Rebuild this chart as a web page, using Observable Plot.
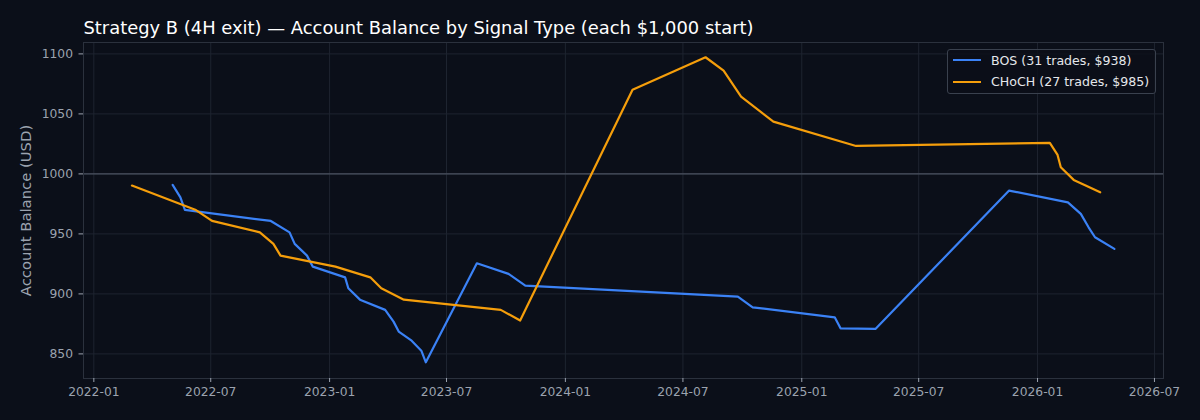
<!DOCTYPE html>
<html>
<head>
<meta charset="utf-8">
<script src="https://cdn.jsdelivr.net/npm/d3@7"></script>
<script src="https://cdn.jsdelivr.net/npm/@observablehq/plot@0.6"></script>
<style>
  html, body { margin: 0; padding: 0; background: #0b0f19; }
  #wrap { position: relative; width: 1200px; height: 420px; overflow: hidden; }
  #legend {
    position: absolute; left: 947px; top: 49px; width: 209px; height: 45px;
    box-sizing: border-box; border: 1px solid #3a414e; border-radius: 3px;
    background: rgba(11,15,25,0.82);
    font-family: "DejaVu Sans", sans-serif; font-size: 12.6px; color: #e5e7eb;
  }
  .item { position: absolute; left: 5px; height: 20px; display: flex; align-items: center; white-space: nowrap; }
  .swatch { width: 28px; height: 0; border-top: 2px solid; margin-right: 10px; }
</style>
</head>
<body>
<div id="wrap"><div id="chart"></div>
  <div id="legend">
    <div class="item" style="top:0px"><span class="swatch" style="border-color:#3b82f6"></span><span id="lg0"></span></div>
    <div class="item" style="top:21.5px"><span class="swatch" style="border-color:#f59e0b"></span><span id="lg1"></span></div>
  </div>
</div>
<script>
const titleText = "Strategy B (4H exit) — Account Balance by Signal Type (each $1,000 start)";
const yLabel = "Account Balance (USD)";
const seriesNames = ["BOS (31 trades, $938)", "CHoCH (27 trades, $985)"];
const seriesColors = ["#3b82f6", "#f59e0b"];

const bosDates = ["2022-05-03","2022-05-15","2022-05-22","2022-10-02","2022-10-31","2022-11-08","2022-11-27","2022-12-06",
  "2023-01-25","2023-01-30","2023-02-17","2023-03-28","2023-04-10","2023-04-18","2023-05-08","2023-05-23","2023-05-30",
  "2023-08-17","2023-10-05","2023-10-31","2024-09-24","2024-10-17","2025-02-21","2025-03-02","2025-04-25",
  "2025-11-18","2026-02-17","2026-03-09","2026-03-21","2026-03-31","2026-04-30"];
const bosValues = [990.8,980.5,970.0,960.8,951.3,941.7,931.9,922.7,
  913.8,904.7,895.2,886.7,876.9,868.6,861.0,852.7,843.0,
  925.5,916.7,906.9,897.8,888.8,880.5,871.3,870.8,
  986.1,976.3,966.7,955.5,947.2,937.5];

const chochDates = ["2022-03-01","2022-06-07","2022-07-03","2022-09-15","2022-10-06","2022-10-17","2023-01-10","2023-03-05",
  "2023-03-22","2023-04-26","2023-09-23","2023-10-23","2024-04-14","2024-08-05","2024-09-02","2024-09-29","2024-11-18",
  "2025-03-26","2026-01-20","2026-02-01","2026-02-06","2026-02-26","2026-04-08"];
const chochValues = [990.3,970.2,960.8,951.3,941.7,931.9,922.7,913.8,
  904.7,895.2,886.7,877.8,1070.2,1097.2,1086.1,1064.4,1043.6,
  1023.3,1025.8,1015.8,1005.5,995.0,984.7];

const xTickLabels = ["2022-01","2022-07","2023-01","2023-07","2024-01","2024-07","2025-01","2025-07","2026-01","2026-07"];
const yTicks = [850, 900, 950, 1000, 1050, 1100];
const baseline = [1000];

const bos = bosDates.map((d, i) => ({date: new Date(d), value: bosValues[i]}));
const choch = chochDates.map((d, i) => ({date: new Date(d), value: chochValues[i]}));
const xTicks = xTickLabels.map(s => new Date(s + "-01"));

document.getElementById("lg0").textContent = seriesNames[0];
document.getElementById("lg1").textContent = seriesNames[1];

const chart = Plot.plot({
  width: 1200,
  height: 420,
  marginLeft: 83,
  marginRight: 37,
  marginTop: 42,
  marginBottom: 42,
  style: {background: "#0b0f19", color: "#9ca3af", fontFamily: "DejaVu Sans, sans-serif", fontSize: "12.3px"},
  x: {type: "utc", domain: [new Date("2021-12-16"), new Date("2026-07-15")]},
  y: {domain: [829.5, 1109.5]},
  marks: [
    Plot.gridX(xTicks, {stroke: "#1e2430", strokeOpacity: 1}),
    Plot.gridY(yTicks, {stroke: "#1e2430", strokeOpacity: 1}),
    Plot.ruleY(baseline, {stroke: "#4b5260", strokeWidth: 1.2}),
    Plot.frame({stroke: "#2b313d"}),
    Plot.axisX(xTicks, {tickFormat: d3.utcFormat("%Y-%m"), tickSize: 4, tickPadding: 5, label: null, stroke: "#9ca3af", fill: "#9ca3af"}),
    Plot.axisY(yTicks, {tickFormat: d => String(d), tickSize: 4.5, tickPadding: 6, label: null, stroke: "#9ca3af", fill: "#9ca3af"}),
    Plot.line(bos, {x: "date", y: "value", stroke: seriesColors[0], strokeWidth: 2.2}),
    Plot.line(choch, {x: "date", y: "value", stroke: seriesColors[1], strokeWidth: 2.2}),
    Plot.text([titleText], {frameAnchor: "top-left", textAnchor: "start", lineAnchor: "bottom", dy: -9, fill: "#ffffff", fontSize: 17.9}),
    Plot.text([yLabel], {frameAnchor: "left", textAnchor: "middle", lineAnchor: "middle", rotate: -90, dx: -57, fill: "#9ca3af", fontSize: 14.8})
  ]
});
document.getElementById("chart").appendChild(chart);
</script>
</body>
</html>
